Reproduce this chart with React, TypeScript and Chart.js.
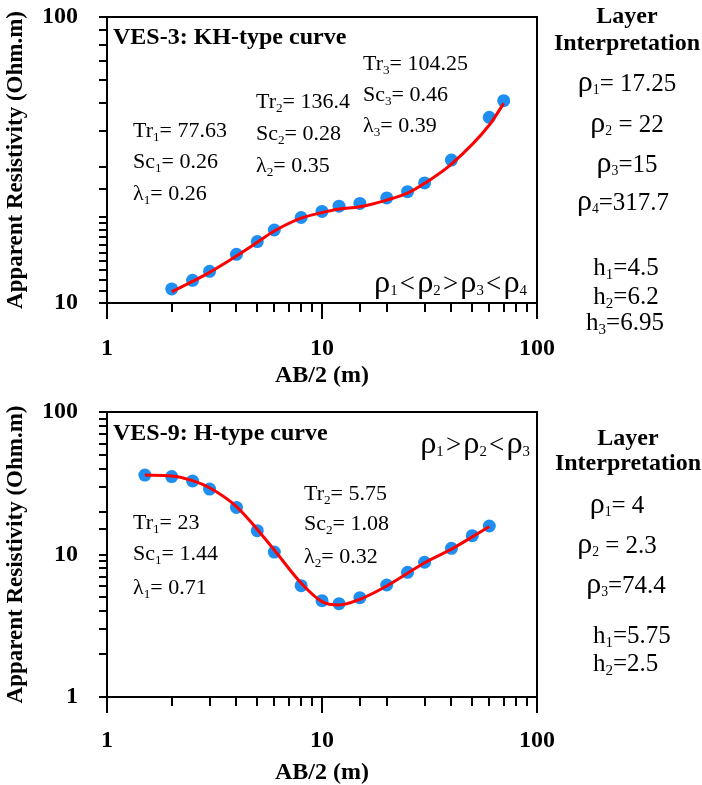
import React, { useEffect, useRef } from 'react';
import { Chart, registerables } from 'chart.js';

Chart.register(...registerables);

// ---------- data ----------
const ves3AB = [2, 2.5, 3, 4, 5, 6, 8, 10, 12, 15, 20, 25, 30, 40, 60, 70];
const ves3Rho = [11.2, 12.0, 12.9, 14.8, 16.4, 18.0, 19.9, 20.9, 21.8, 22.3, 23.3, 24.5, 26.3, 31.6, 44.6, 51];
const ves3Fit = [10.95, 11.9, 12.8, 14.6, 16.3, 17.85, 19.8, 20.7, 21.3, 21.7, 22.9, 24.2, 26.2, 30.6, 41.9, 49.9];

const ves9AB = [1.5, 2, 2.5, 3, 4, 5, 6, 8, 10, 12, 15, 20, 25, 30, 40, 50, 60];
const ves9Rho = [36.1, 35.2, 32.8, 28.8, 21.4, 14.7, 10.4, 6.04, 4.74, 4.52, 4.98, 6.11, 7.5, 8.82, 11.05, 13.55, 15.85];
const ves9Fit = [36.1, 35.6, 33.0, 29.4, 21.7, 15.0, 10.75, 6.3, 4.67, 4.42, 4.85, 6.01, 7.38, 8.76, 10.9, 13.3, 15.7];

const xTickLabels = [1, 10, 100];
const yTickLabels3 = [10, 100];
const yTickLabels9 = [1, 10, 100];

const FONT = '"Liberation Serif", "Times New Roman", serif';
const W = 702;

const isPow10 = (v: number) => Math.abs(Math.log10(v) - Math.round(Math.log10(v))) < 1e-9;

const framePlugin = {
  id: 'frame',
  afterDatasetsDraw(chart: any) {
    const { ctx, chartArea: a, scales } = chart;
    ctx.save();
    ctx.strokeStyle = '#000';
    ctx.lineWidth = 2;
    ctx.strokeRect(a.left, a.top, a.right - a.left, a.bottom - a.top);
    ctx.beginPath();
    scales.x.ticks.forEach((t: any) => {
      const px = Math.round(scales.x.getPixelForValue(t.value));
      ctx.moveTo(px, a.bottom);
      ctx.lineTo(px, a.bottom + (isPow10(t.value) ? 16 : 9));
    });
    scales.y.ticks.forEach((t: any) => {
      const py = Math.round(scales.y.getPixelForValue(t.value));
      ctx.moveTo(a.left, py);
      ctx.lineTo(a.left - 8, py);
    });
    ctx.stroke();
    ctx.restore();
  },
};

type PanelProps = {
  ab: number[];
  rho: number[];
  fit: number[];
  yMin: number;
  yMax: number;
  yLabels: number[];
  height: number;
  xScaleHeight: number;
  xLabelPad: number;
  xTitlePad: number;
};

function Panel({ ab, rho, fit, yMin, yMax, yLabels, height, xScaleHeight, xLabelPad, xTitlePad }: PanelProps) {
  const ref = useRef<HTMLCanvasElement | null>(null);
  useEffect(() => {
    if (!ref.current) return;
    const tickFont = { family: FONT, size: 24, weight: 'bold' as const };
    const chart = new Chart(ref.current, {
      type: 'scatter',
      data: {
        datasets: [
          {
            label: 'fit',
            data: ab.map((x, i) => ({ x, y: fit[i] })),
            showLine: true,
            borderColor: '#ff0000',
            borderWidth: 3,
            pointRadius: 0,
            cubicInterpolationMode: 'monotone',
            order: 0,
          } as any,
          {
            label: 'observed',
            data: ab.map((x, i) => ({ x, y: rho[i] })),
            showLine: false,
            pointRadius: 6.5,
            pointBackgroundColor: '#1f8ef1',
            pointBorderWidth: 0,
            order: 1,
          } as any,
        ],
      },
      options: {
        responsive: false,
        animation: false,
        layout: { padding: { top: 17, right: W - 537, bottom: 0, left: 0 } },
        plugins: { legend: { display: false }, tooltip: { enabled: false } },
        scales: {
          x: {
            type: 'logarithmic',
            min: 1,
            max: 100,
            grid: { display: false, drawTicks: false },
            border: { display: false },
            ticks: {
              autoSkip: false,
              maxRotation: 0,
              padding: xLabelPad,
              color: '#000',
              font: tickFont,
              callback: (v: any) => (xTickLabels.includes(Number(v)) ? String(v) : ''),
            },
            title: {
              display: true,
              text: 'AB/2 (m)',
              color: '#000',
              font: { family: FONT, size: 24, weight: 'bold', lineHeight: 1 },
              padding: { top: 0, bottom: xTitlePad },
            },
            afterFit: (s: any) => {
              s.height = xScaleHeight;
              s.paddingLeft = 0;
              s.paddingRight = 0;
            },
          } as any,
          y: {
            type: 'logarithmic',
            min: yMin,
            max: yMax,
            grid: { display: false, drawTicks: false },
            border: { display: false },
            ticks: {
              autoSkip: false,
              padding: 29,
              color: '#000',
              font: tickFont,
              callback: (v: any) => (yLabels.includes(Number(v)) ? String(v) : ''),
            },
            title: {
              display: true,
              text: 'Apparent Resistivity (Ohm.m)',
              color: '#000',
              font: { family: FONT, size: 23, weight: 'bold', lineHeight: 1 },
              padding: { top: 5, bottom: 0 },
            },
            afterFit: (s: any) => {
              s.width = 107;
              s.paddingTop = 0;
              s.paddingBottom = 0;
            },
          } as any,
        },
      },
      plugins: [framePlugin],
    });
    return () => chart.destroy();
  }, []);
  return <canvas ref={ref} width={W} height={height} style={{ display: 'block', width: W, height }} />;
}

function S({ children }: { children: React.ReactNode }) {
  return <span style={{ fontSize: '0.6em', position: 'relative', top: '0.3em' }}>{children}</span>;
}
function R({ n }: { n: string }) {
  return (
    <span>
      <span style={{ fontSize: '1.2em' }}>ρ</span>
      <span style={{ fontSize: '0.55em', position: 'relative', top: '0.25em' }}>{n}</span>
    </span>
  );
}
function Op({ c }: { c: string }) {
  return <span style={{ margin: '0 0.08em' }}>{c}</span>;
}

type TProps = { x: number; y: number; size: number; bold?: boolean; align?: 'left' | 'center' | 'right'; children: React.ReactNode };
function T({ x, y, size, bold, align = 'left', children }: TProps) {
  const style: React.CSSProperties = {
    position: 'absolute',
    top: y - size / 2,
    fontSize: size,
    lineHeight: `${size}px`,
    fontWeight: bold ? 'bold' : 'normal',
    whiteSpace: 'nowrap',
    fontFamily: FONT,
    color: '#000',
  };
  if (align === 'left') style.left = x;
  else if (align === 'right') style.right = W - x;
  else {
    style.left = x;
    style.transform = 'translateX(-50%)';
  }
  return <div style={style}>{children}</div>;
}

export default function App() {
  const A = 22; // annotation size
  const P = 25; // panel size
  const Q = 27; // relation size
  return (
    <div style={{ position: 'absolute', left: 0, top: 0, width: W, height: 785, overflow: 'hidden', background: '#fff' }}>
      <div style={{ position: 'absolute', left: 0, top: 0 }}>
        <Panel ab={ves3AB} rho={ves3Rho} fit={ves3Fit} yMin={10} yMax={100} yLabels={yTickLabels3}
          height={392} xScaleHeight={89} xLabelPad={31} xTitlePad={4} />
      </div>
      <div style={{ position: 'absolute', left: 0, top: 395 }}>
        <Panel ab={ves9AB} rho={ves9Rho} fit={ves9Fit} yMin={1} yMax={100} yLabels={yTickLabels9}
          height={390} xScaleHeight={88} xLabelPad={29} xTitlePad={0} />
      </div>

      {/* VES-3 annotations */}
      <T x={113} y={36} size={24} bold>VES-3: KH-type curve</T>
      <T x={133} y={130} size={A}>Tr<S>1</S>= 77.63</T>
      <T x={133} y={161} size={A}>Sc<S>1</S>= 0.26</T>
      <T x={133} y={193} size={A}>λ<S>1</S>= 0.26</T>
      <T x={256} y={101} size={A}>Tr<S>2</S>= 136.4</T>
      <T x={256} y={133} size={A}>Sc<S>2</S>= 0.28</T>
      <T x={256} y={165} size={A}>λ<S>2</S>= 0.35</T>
      <T x={363} y={63} size={A}>Tr<S>3</S>= 104.25</T>
      <T x={363} y={94} size={A}>Sc<S>3</S>= 0.46</T>
      <T x={363} y={125} size={A}>λ<S>3</S>= 0.39</T>
      <T x={527} y={281} size={Q} align="right"><R n="1" /><Op c="<" /><R n="2" /><Op c=">" /><R n="3" /><Op c="<" /><R n="4" /></T>

      <T x={627} y={15} size={24} bold align="center">Layer</T>
      <T x={627} y={42} size={24} bold align="center">Interpretation</T>
      <T x={627} y={80} size={P} align="center"><R n="1" />= 17.25</T>
      <T x={627} y={121} size={P} align="center"><R n="2" /> = 22</T>
      <T x={627} y={161} size={P} align="center"><R n="3" />=15</T>
      <T x={623} y={199} size={P} align="center"><R n="4" />=317.7</T>
      <T x={626} y={266} size={P} align="center">h<S>1</S>=4.5</T>
      <T x={626} y={295} size={P} align="center">h<S>2</S>=6.2</T>
      <T x={625} y={321} size={P} align="center">h<S>3</S>=6.95</T>

      {/* VES-9 annotations */}
      <T x={113} y={432} size={24} bold>VES-9: H-type curve</T>
      <T x={530} y={442} size={Q} align="right"><R n="1" /><Op c=">" /><R n="2" /><Op c="<" /><R n="3" /></T>
      <T x={133} y={522} size={A}>Tr<S>1</S>= 23</T>
      <T x={133} y={553} size={A}>Sc<S>1</S>= 1.44</T>
      <T x={133} y={587} size={A}>λ<S>1</S>= 0.71</T>
      <T x={304} y={493} size={A}>Tr<S>2</S>= 5.75</T>
      <T x={304} y={523} size={A}>Sc<S>2</S>= 1.08</T>
      <T x={304} y={556} size={A}>λ<S>2</S>= 0.32</T>

      <T x={628} y={437} size={24} bold align="center">Layer</T>
      <T x={628} y={462} size={24} bold align="center">Interpretation</T>
      <T x={617} y={502} size={P} align="center"><R n="1" />= 4</T>
      <T x={617} y={542} size={P} align="center"><R n="2" /> = 2.3</T>
      <T x={626} y={582} size={P} align="center"><R n="3" />=74.4</T>
      <T x={593} y={634} size={P}>h<S>1</S>=5.75</T>
      <T x={593} y={662} size={P}>h<S>2</S>=2.5</T>
    </div>
  );
}
